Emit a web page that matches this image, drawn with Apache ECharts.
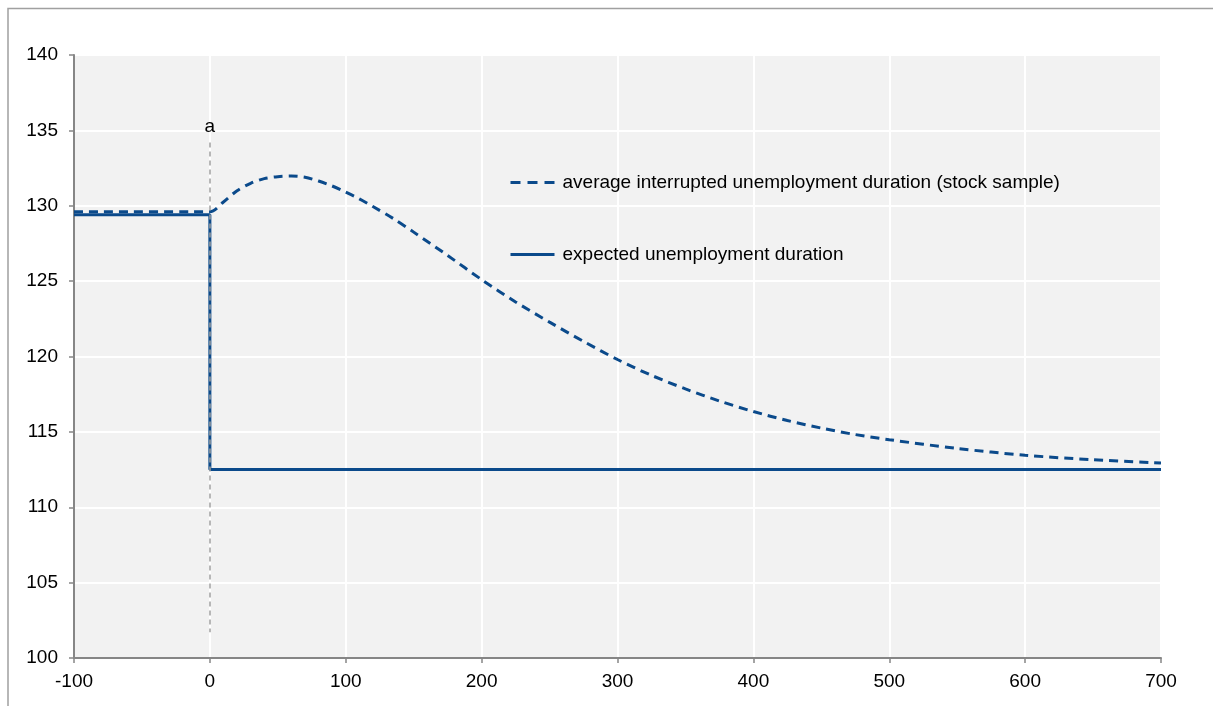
<!DOCTYPE html>
<html>
<head>
<meta charset="utf-8">
<script src="https://cdn.jsdelivr.net/npm/echarts@6/dist/echarts.min.js"></script>
<style>
html,body{margin:0;padding:0;background:#fff;}
#chart{width:1213px;height:706px;}
</style>
</head>
<body>
<div id="chart"></div>
<script>
// Data
var stockX = [-100, 0, 10, 20, 30, 40, 50, 60, 70, 80, 90, 100, 110, 120, 135, 150, 175, 200, 225, 250, 275, 300, 325, 350, 375, 400, 425, 450, 475, 500, 550, 600, 650, 700];
var stockY = [129.6, 129.6, 130.25, 131.0, 131.49, 131.8, 131.93, 131.97, 131.89, 131.64, 131.31, 130.9, 130.46, 129.95, 129.15, 128.25, 126.7, 125.1, 123.62, 122.28, 121.0, 119.8, 118.75, 117.85, 117.05, 116.35, 115.75, 115.25, 114.82, 114.48, 113.9, 113.45, 113.15, 112.93];
var expectedX = [-100, 0, 0, 700];
var expectedY = [129.4, 129.4, 112.5, 112.5];
var markerX = 0;
var markerRange = [134.2, 101.7];
var markerLabel = 'a';
var seriesNames = ['average interrupted unemployment duration (stock sample)', 'expected unemployment duration'];

function zip(xs, ys) { return xs.map(function (x, i) { return [x, ys[i]]; }); }

var blue = '#0b4a8b';
var font = 'Liberation Sans, Arial, sans-serif';
var fs = 19;
var legendCommon = {
  left: 509, orient: 'vertical', padding: 0,
  itemWidth: 44, itemHeight: 14,
  itemStyle: {opacity: 0},
  textStyle: {fontFamily: font, fontSize: fs, color: '#000', padding: [0, 0, 0, 3]}
};
var chart = echarts.init(document.getElementById('chart'), null, {renderer: 'canvas'});
chart.setOption({
  backgroundColor: '#ffffff',
  animation: false,
  graphic: [{
    type: 'polyline',
    shape: {points: [[8, 720], [8, 8.5], [1220, 8.5]]},
    style: {stroke: '#a0a0a0', lineWidth: 1.5, fill: null},
    silent: true
  }],
  grid: {
    left: 74, right: 52, top: 55, bottom: 48,
    show: true, backgroundColor: '#f2f2f2', borderWidth: 0
  },
  legend: [
    Object.assign({}, legendCommon, {top: 173, data: [seriesNames[0]], lineStyle: {width: 3, type: [10, 7]}}),
    Object.assign({}, legendCommon, {top: 245, data: [seriesNames[1]], lineStyle: {width: 3}})
  ],
  xAxis: {
    type: 'value', min: -100, max: 700, interval: 100,
    axisLine: {show: true, onZero: false, lineStyle: {color: '#868686', width: 2}},
    axisTick: {show: true, length: 5, lineStyle: {color: '#868686', width: 1.5}},
    axisLabel: {fontFamily: font, fontSize: fs, color: '#000', margin: 14},
    splitLine: {show: true, lineStyle: {color: '#ffffff', width: 2}}
  },
  yAxis: {
    type: 'value', min: 100, max: 140, interval: 5,
    axisLine: {show: true, onZero: false, lineStyle: {color: '#868686', width: 2}},
    axisTick: {show: true, length: 5, lineStyle: {color: '#868686', width: 1.5}},
    axisLabel: {fontFamily: font, fontSize: fs, color: '#000', margin: 16},
    splitLine: {show: true, lineStyle: {color: '#ffffff', width: 2}}
  },
  series: [{
    name: seriesNames[1],
    type: 'line',
    data: zip(expectedX, expectedY),
    symbol: 'none',
    lineStyle: {color: blue, width: 3},
    itemStyle: {color: blue},
    z: 3
  }, {
    name: seriesNames[0],
    type: 'line',
    data: zip(stockX, stockY),
    symbol: 'none',
    smooth: 0.3,
    lineStyle: {color: blue, width: 3, type: [9, 6]},
    itemStyle: {color: blue},
    z: 4,
    markLine: {
      silent: true,
      symbol: 'none',
      lineStyle: {color: '#a0a0a0', width: 1.5, type: [5, 4]},
      label: {show: true, position: 'start', formatter: markerLabel, fontFamily: font, fontSize: fs, color: '#000', distance: 6},
      data: [[{coord: [markerX, markerRange[0]]}, {coord: [markerX, markerRange[1]]}]]
    }
  }]
});
</script>
</body>
</html>
